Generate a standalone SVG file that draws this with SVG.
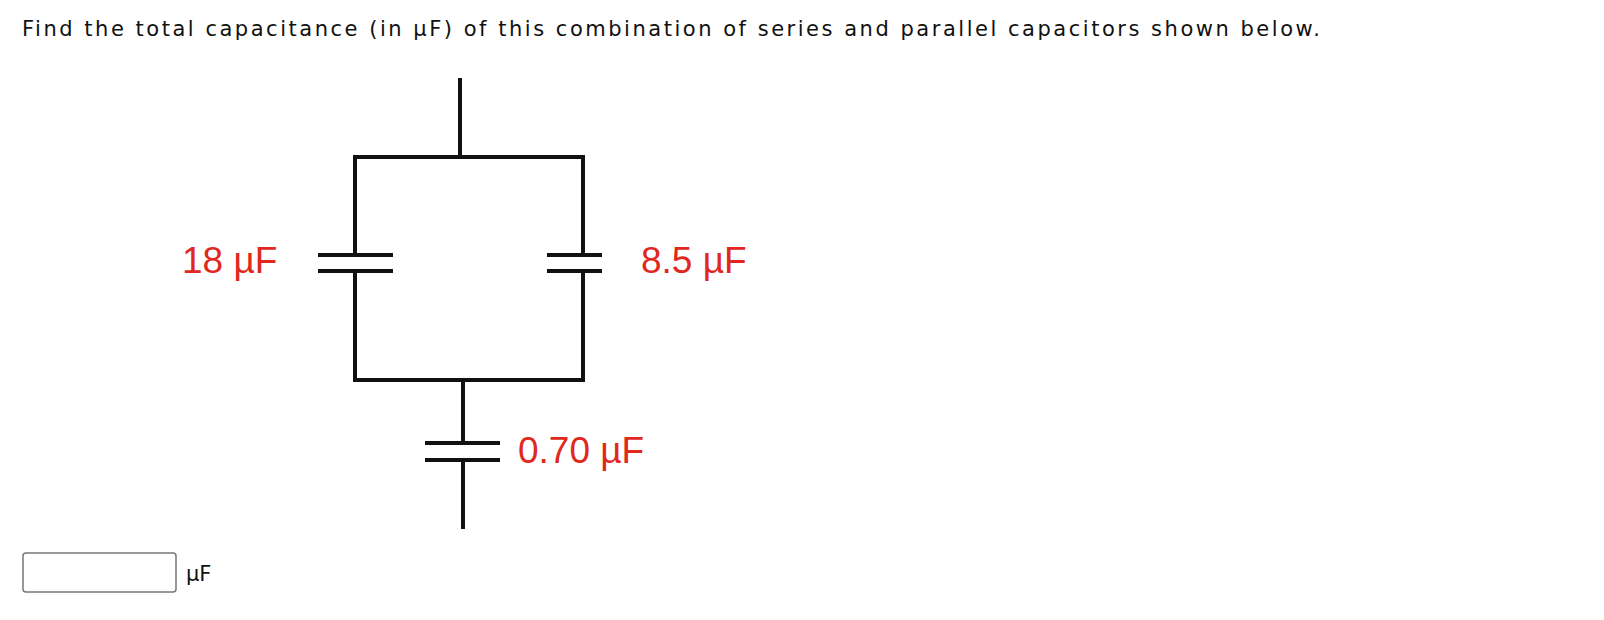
<svg xmlns="http://www.w3.org/2000/svg" width="1604" height="620" viewBox="0 0 1604 620">
<style>
.w{stroke:#111;stroke-width:4;fill:none;stroke-linecap:square}
.t{font-family:"DejaVu Sans",Verdana,sans-serif;fill:#111}
.r{font-family:"Liberation Sans",Arial,sans-serif;font-size:37px;fill:#e0281e}
</style>
<rect width="1604" height="620" fill="#fff"/>
<text class="t" x="22" y="36" font-size="21" textLength="1298">Find the total capacitance (in µF) of this combination of series and parallel capacitors shown below.</text>
<g id="connectors">
<path class="w" d="M460 80V157M355 157H583M355 157V255M583 157V255M355 271V380M583 271V380M355 380H583M463 380V443M463 460V527"/>
</g>
<g id="c1"><path class="w" d="M320 255H391M320 271H391"/><text class="r" x="182" y="273">18 µF</text></g>
<g id="c2"><path class="w" d="M549 255H600M549 271H600"/><text class="r" x="641" y="273">8.5 µF</text></g>
<g id="c3"><path class="w" d="M427 443H498M427 460H498"/><text class="r" x="518" y="463">0.70 µF</text></g>
<g id="answer"><rect x="23" y="553" width="153" height="39" rx="3" fill="#fff" stroke="#777" stroke-width="1.5"/><text class="t" x="186" y="581" font-size="21">µF</text></g>
</svg>
